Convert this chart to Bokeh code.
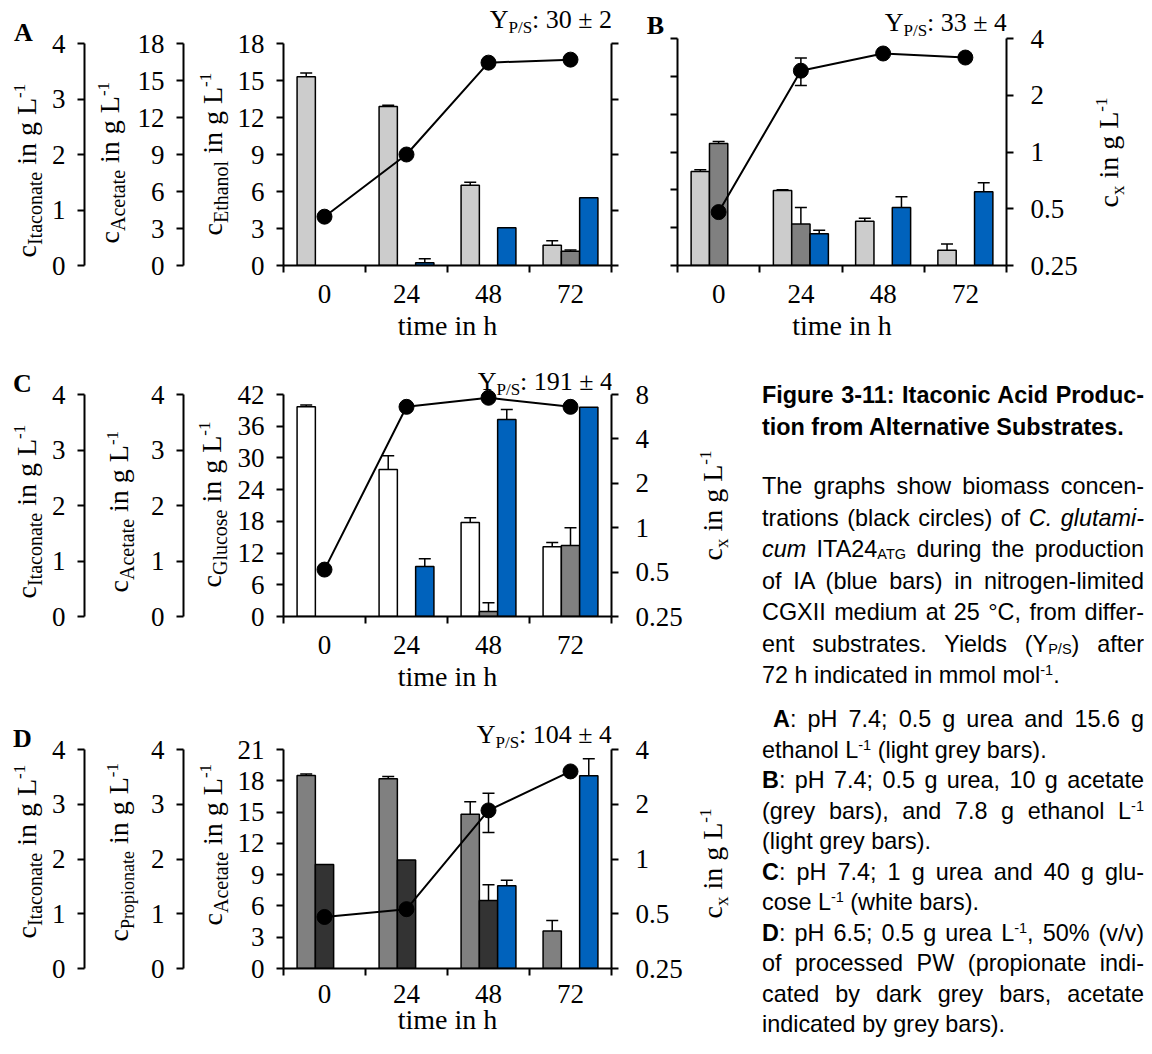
import math
from bokeh.plotting import figure
from bokeh.models import (Range1d, LinearAxis, LogScale, FixedTicker,
                          CustomJSTickFormatter, ColumnDataSource, Whisker,
                          TeeHead, Label, Div)
from bokeh.layouts import row, column
from bokeh.embed import file_html
from bokeh.resources import INLINE

SERIF = "Liberation Serif"

# ---------------- data ----------------
times = [0, 24, 48, 72]

# Panel A: ethanol
a_ethanol = [15.3, 12.9, 6.5, 1.65]
a_ethanol_err = [0.3, 0.1, 0.25, 0.35]
a_acetate = [0.0, 0.0, 0.0, 1.15]
a_acetate_err = [0.0, 0.0, 0.0, 0.1]
a_itaconate = [0.0, 0.05, 0.68, 1.22]
a_itaconate_err = [0.0, 0.07, 0.0, 0.0]
a_biomass = [0.46, 1.0, 3.15, 3.27]
a_biomass_err = [0.0, 0.0, 0.0, 0.0]
a_yield = "30 ± 2"

# Panel B: acetate + ethanol
b_ethanol = [7.46, 5.95, 3.5, 1.2]
b_ethanol_err = [0.13, 0.05, 0.25, 0.5]
b_acetate = [9.68, 3.3, 0.0, 0.0]
b_acetate_err = [0.16, 1.3, 0.0, 0.0]
b_itaconate = [0.0, 0.56, 1.02, 1.30]
b_itaconate_err = [0.0, 0.06, 0.19, 0.16]
b_biomass = [0.48, 2.7, 3.33, 3.17]
b_biomass_err = [0.05, 0.45, 0.15, 0.15]
b_yield = "33 ± 4"

# Panel C: glucose
c_glucose = [39.7, 27.8, 17.8, 13.2]
c_glucose_err = [0.3, 2.6, 0.9, 0.8]
c_acetate = [0.0, 0.0, 0.09, 1.28]
c_acetate_err = [0.0, 0.0, 0.16, 0.32]
c_itaconate = [0.0, 0.9, 3.55, 3.77]
c_itaconate_err = [0.0, 0.14, 0.18, 0.0]
c_biomass = [0.52, 6.6, 7.6, 6.6]
c_biomass_err = [0.0, 0.0, 0.0, 0.0]
c_yield = "191 ± 4"

# Panel D: processed PW
d_acetate = [18.5, 18.2, 14.8, 3.6]
d_acetate_err = [0.15, 0.2, 1.2, 1.0]
d_propionate = [1.9, 1.98, 1.24, 0.0]
d_propionate_err = [0.0, 0.0, 0.29, 0.0]
d_itaconate = [0.0, 0.0, 1.51, 3.52]
d_itaconate_err = [0.0, 0.0, 0.1, 0.31]
d_biomass = [0.48, 0.53, 1.85, 3.03]
d_biomass_err = [0.0, 0.0, 0.45, 0.0]
d_yield = "104 ± 4"

# tick labels
itaconate_ticks = [0, 1, 2, 3, 4]
conc18_ticks = [0, 3, 6, 9, 12, 15, 18]
glucose_ticks = [0, 6, 12, 18, 24, 30, 36, 42]
conc21_ticks = [0, 3, 6, 9, 12, 15, 18, 21]
cx_ticks = [0.25, 0.5, 1, 2, 4]
cx_ticks_c = [0.25, 0.5, 1, 2, 4, 8]

# ---------------- styles ----------------
LIGHT = "#cccccc"
GREY = "#808080"
DARK = "#333333"
BLUE = "#0062bc"
WHITE = "#ffffff"

TW = {' ': .25, '-': .333, '/': .278, ':': .278, '±': .564, '.': .25,
      '0': .5, '1': .5, '2': .5, '3': .5, '4': .5, '5': .5, '6': .5, '7': .5,
      '8': .5, '9': .5, 'A': .722, 'E': .611, 'G': .722, 'I': .333, 'L': .611,
      'P': .556, 'S': .556, 'Y': .722, 'a': .444, 'c': .444, 'e': .444,
      'g': .5, 'h': .5, 'i': .278, 'l': .278, 'n': .5, 'o': .5, 'p': .5,
      'r': .333, 's': .389, 't': .278, 'u': .5, 'x': .5}


def tw(s, size):
    return sum(TW.get(ch, 0.5) for ch in s) * size


XR = (-12, 84)
SLOT = 5.35
edges = [t - 12 for t in times] + [times[-1] + 12]


def make_conv(L, R, T, B, xr, yr):
    def conv(px, py):
        x = xr[0] + (px - L) / (R - L) * (xr[1] - xr[0])
        y = yr[0] + (B - py) / (B - T) * (yr[1] - yr[0])
        return x, y
    return conv


def ext_lin(r, y0, T, B):
    return (r[0], r[0] + (r[1] - r[0]) * (B - y0) / (B - T))


def ext_log(r, y0, T, B):
    n = math.log2(r[1] / r[0])
    return (r[0], r[0] * 2 ** (n * (B - y0) / (B - T)))


def base_fig(w, h, xr, yr, bl, br, bt, bb):
    p = figure(width=w, height=h, x_range=Range1d(*xr), y_range=Range1d(*yr),
               min_border_left=bl, min_border_right=br, min_border_top=bt,
               min_border_bottom=bb, x_axis_location=None, y_axis_location=None,
               toolbar_location=None, output_backend="svg", title=None,
               outline_line_color=None)
    p.grid.visible = False
    return p


def text_fig(x0, y0, w, h, B):
    # same top/bottom borders as the other plots of its row (frames get aligned)
    p = base_fig(w, h, (0, w), (0, B - y0), 0, 0, 0, y0 + h - B)
    conv = make_conv(x0, x0 + w, y0, B, (0, w), (0, B - y0))
    return p, conv


def style_y(ax, labels=True, standoff=12, fmt=None):
    ax.axis_line_width = 2
    ax.axis_line_color = "black"
    ax.major_tick_line_width = 2
    ax.major_tick_line_color = "black"
    ax.major_tick_out = 7
    ax.major_tick_in = 0
    ax.minor_tick_out = 0
    ax.minor_tick_in = 0
    ax.major_label_text_font = SERIF
    ax.major_label_text_font_size = "27px"
    ax.major_label_text_color = "black"
    ax.major_label_standoff = standoff
    if not labels:
        ax.formatter = CustomJSTickFormatter(code="return ''")
    elif fmt is not None:
        ax.formatter = fmt


def axis_fig(x0, y0, w, h, bl, T, B, yr, ticks):
    er = ext_lin(yr, y0, T, B)
    p = base_fig(w, h, (0, 1), er, bl, 0, 0, y0 + h - B)
    ax = LinearAxis(ticker=FixedTicker(ticks=ticks), bounds=yr)
    style_y(ax)
    p.add_layout(ax, "left")
    conv = make_conv(x0 + bl, x0 + w, y0, B, (0, 1), er)
    return p, conv


def main_fig(x0, y0, w, h, bl, br, T, B, yr, yticks, ylabels, extra,
             cxr, cxt, cxlabels, s1=12, s2=4):
    er = ext_lin(yr, y0, T, B)
    p = base_fig(w, h, XR, er, bl, br, 0, y0 + h - B)
    rngs = {name: Range1d(*ext_lin(r, y0, T, B)) for name, r in extra.items()}
    rngs["cx"] = Range1d(*ext_log(cxr, y0, T, B))
    p.extra_y_ranges = rngs
    p.extra_y_scales = {"cx": LogScale()}

    xax = LinearAxis(ticker=FixedTicker(ticks=times, minor_ticks=edges),
                     axis_label="time in h")
    xax.axis_line_width = 2
    xax.major_tick_out = 0
    xax.major_tick_in = 0
    xax.minor_tick_out = 7
    xax.minor_tick_in = 0
    xax.minor_tick_line_width = 2
    xax.minor_tick_line_color = "black"
    xax.major_label_text_font = SERIF
    xax.major_label_text_font_size = "27px"
    xax.major_label_text_color = "black"
    xax.major_label_standoff = s1
    xax.axis_label_text_font = SERIF
    xax.axis_label_text_font_size = "28px"
    xax.axis_label_text_font_style = "normal"
    xax.axis_label_text_color = "black"
    xax.axis_label_standoff = s2
    p.add_layout(xax, "below")

    yax = LinearAxis(ticker=FixedTicker(ticks=yticks), bounds=yr)
    style_y(yax, labels=ylabels, standoff=12 if ylabels else 0)
    p.add_layout(yax, "left")

    rax = LinearAxis(y_range_name="cx", ticker=FixedTicker(ticks=cxt), bounds=cxr)
    style_y(rax, labels=cxlabels, standoff=17 if cxlabels else 0,
            fmt=CustomJSTickFormatter(code="return String(tick)"))
    p.add_layout(rax, "right")

    conv = make_conv(x0 + bl, x0 + w - br, y0, B, XR, er)
    return p, conv


def bars(p, vals, errs, slot, color, rname="default"):
    keep = [i for i, v in enumerate(vals) if v > 0]
    xs = [times[i] + slot * SLOT for i in keep]
    src = ColumnDataSource(dict(x=xs, top=[vals[i] for i in keep]))
    p.vbar(x="x", top="top", bottom=0, width=SLOT, source=src,
           fill_color=color, line_color="black", line_width=1.5,
           y_range_name=rname)
    ek = [i for i in keep if errs[i] > 0]
    if ek:
        esrc = ColumnDataSource(dict(x=[times[i] + slot * SLOT for i in ek],
                                     lo=[vals[i] for i in ek],
                                     hi=[vals[i] + errs[i] for i in ek]))
        p.add_layout(Whisker(source=esrc, base="x", lower="lo", upper="hi",
                             y_range_name=rname, line_color="black",
                             line_width=1.5, lower_head=None,
                             upper_head=TeeHead(size=12, line_width=1.5,
                                                line_color="black")))


def biomass(p, vals, errs):
    p.line(times, vals, y_range_name="cx", line_color="black", line_width=2)
    p.scatter(times, vals, y_range_name="cx", size=15, fill_color="black",
              line_color="black")
    ek = [i for i, e in enumerate(errs) if e > 0]
    if ek:
        esrc = ColumnDataSource(dict(x=[times[i] for i in ek],
                                     lo=[vals[i] - errs[i] for i in ek],
                                     hi=[vals[i] + errs[i] for i in ek]))
        p.add_layout(Whisker(source=esrc, base="x", lower="lo", upper="hi",
                             y_range_name="cx", line_color="black",
                             line_width=1.5,
                             upper_head=TeeHead(size=12, line_width=1.5, line_color="black"),
                             lower_head=TeeHead(size=12, line_width=1.5, line_color="black")))


def put(p, conv, px, py, text, size, angle=0.0, align="left", bold=False,
        baseline="middle"):
    x, y = conv(px, py)
    p.add_layout(Label(x=x, y=y, text=text, angle=angle, text_align=align,
                       text_baseline=baseline, text_font=SERIF,
                       text_font_size=f"{size}px", text_color="black",
                       text_font_style="bold" if bold else "normal"))


MID = 0.3375  # distance baseline -> middle of em box, in em


def vtitle(p, conv, xb, ybot, sub, main=28, subs=20, sups=17):
    # rotated (reading upwards) title: c_sub in g L^-1, each piece centred
    pieces = [("c", main, 0, 0.0), (sub, subs, 6, 0.0),
              ("in g L", main, 0, tw(" ", main)), ("-1", sups, -10, 0.0)]
    y = ybot
    for text, size, dx, gap in pieces:
        y -= gap
        w = tw(text, size)
        put(p, conv, xb + dx - MID * size, y - w / 2, text, size,
            angle=math.pi / 2, align="center")
        y -= w


def yield_label(p, conv, xr, yb, val):
    # horizontal "Y_P/S: value", right end at xr, main baseline at yb
    pieces = [("Y", 26, 0), ("P/S", 17, 5), (": " + val, 26, 0)]
    total = sum(tw(t, s) for t, s, _ in pieces)
    x = xr - total
    for t, s, dy in pieces:
        put(p, conv, x, yb + dy - MID * s, t, s)
        x += tw(t, s)


# ---------------- row 1: panels A and B ----------------
Y1, H1, B1 = 0, 345, 265
tA, cvTA = text_fig(0, Y1, 48, H1, B1)
itaA, cvIA = axis_fig(48, Y1, 84, H1, 35, 43, B1, (0, 4), itaconate_ticks)
aceA, cvAA = axis_fig(132, Y1, 101, H1, 51, 43, B1, (0, 18), conc18_ticks)
mainA, cvMA = main_fig(233, Y1, 407, H1, 50, 29, 43, B1, (0, 18), conc18_ticks,
                       True, {"ita": (0, 4)}, (0.25, 4), cx_ticks, False)
bars(mainA, a_ethanol, a_ethanol_err, -1, LIGHT)
bars(mainA, a_acetate, a_acetate_err, 0, GREY)
bars(mainA, a_itaconate, a_itaconate_err, 1, BLUE, "ita")
biomass(mainA, a_biomass, a_biomass_err)
vtitle(tA, cvTA, 35, 257, "Itaconate")
vtitle(itaA, cvIA, 118, 243, "Acetate")
vtitle(aceA, cvAA, 221, 235, "Ethanol")
put(tA, cvTA, 23, 32, "A", 26, align="center", bold=True)
yield_label(mainA, cvMA, 612, 28, a_yield)

tB, cvTB = text_fig(640, Y1, 26, H1, B1)
figB, cvB = main_fig(666, Y1, 424, H1, 11, 84, 38, B1, (0, 18), conc18_ticks,
                     False, {"ita": (0, 4)}, (0.25, 4), cx_ticks, True)
tB2, cvTB2 = text_fig(1090, Y1, 54, H1, B1)
bars(figB, b_ethanol, b_ethanol_err, -1, LIGHT)
bars(figB, b_acetate, b_acetate_err, 0, GREY)
bars(figB, b_itaconate, b_itaconate_err, 1, BLUE, "ita")
biomass(figB, b_biomass, b_biomass_err)
put(tB, cvTB, 655, 25, "B", 26, align="center", bold=True)
yield_label(figB, cvB, 1007, 31, b_yield)
vtitle(tB2, cvTB2, 1117, 207, "x", subs=19)

# ---------------- row 2: panel C ----------------
Y2, H2, B2 = 345, 350, 616
tC, cvTC = text_fig(0, Y2, 48, H2, B2)
itaC, cvIC = axis_fig(48, Y2, 92, H2, 35, 394, B2, (0, 4), itaconate_ticks)
aceC, cvAC = axis_fig(140, Y2, 93, H2, 43, 394, B2, (0, 4), itaconate_ticks)
mainC, cvMC = main_fig(233, Y2, 457, H2, 50, 79, 394, B2, (0, 42), glucose_ticks,
                       True, {"ita": (0, 4), "ace": (0, 4)}, (0.25, 8), cx_ticks_c, True)
tC2, cvTC2 = text_fig(690, Y2, 55, H2, B2)
bars(mainC, c_glucose, c_glucose_err, -1, WHITE)
bars(mainC, c_acetate, c_acetate_err, 0, GREY, "ace")
bars(mainC, c_itaconate, c_itaconate_err, 1, BLUE, "ita")
biomass(mainC, c_biomass, c_biomass_err)
vtitle(tC, cvTC, 35, 598, "Itaconate")
vtitle(itaC, cvIC, 127, 592, "Acetate")
vtitle(aceC, cvAC, 220, 587, "Glucose")
vtitle(tC2, cvTC2, 721, 560, "x", subs=19)
put(tC, cvTC, 22, 383, "C", 26, align="center", bold=True)
yield_label(mainC, cvMC, 613, 390, c_yield)

# ---------------- row 3: panel D ----------------
Y3, H3, B3 = 695, 343, 968
tD, cvTD = text_fig(0, Y3, 48, H3, B3)
itaD, cvID = axis_fig(48, Y3, 92, H3, 35, 749, B3, (0, 4), itaconate_ticks)
prD, cvPD = axis_fig(140, Y3, 93, H3, 43, 749, B3, (0, 4), itaconate_ticks)
mainD, cvMD = main_fig(233, Y3, 457, H3, 50, 79, 749, B3, (0, 21), conc21_ticks,
                       True, {"ita": (0, 4), "prop": (0, 4)}, (0.25, 4), cx_ticks, True,
                       s1=9, s2=-2)
tD2, cvTD2 = text_fig(690, Y3, 55, H3, B3)
bars(mainD, d_acetate, d_acetate_err, -1, GREY)
bars(mainD, d_propionate, d_propionate_err, 0, DARK, "prop")
bars(mainD, d_itaconate, d_itaconate_err, 1, BLUE, "ita")
biomass(mainD, d_biomass, d_biomass_err)
vtitle(tD, cvTD, 35, 938, "Itaconate")
vtitle(itaD, cvID, 127, 941, "Propionate", subs=18)
vtitle(prD, cvPD, 221, 925, "Acetate")
vtitle(tD2, cvTD2, 721, 918, "x", subs=19)
put(tD, cvTD, 22, 738, "D", 26, align="center", bold=True)
yield_label(mainD, cvMD, 612, 743, d_yield)

# ---------------- caption ----------------
SUB = '<sub style="font-size:0.62em;vertical-align:-0.12em;line-height:0">'
SUP = '<sup style="font-size:0.62em;vertical-align:0.55em;line-height:0">'
paragraphs = [
    (395, 31.6, [
        ("<b>Figure 3-11: Itaconic Acid Produc-</b>", True),
        ("<b>tion from Alternative Substrates.</b>", False)]),
    (486, 31.5, [
        ("The graphs show biomass concen-", True),
        ("trations (black circles) of <i>C. glutami-</i>", True),
        ("<i>cum</i> ITA24" + SUB + "ATG</sub> during the production", True),
        ("of IA (blue bars) in nitrogen-limited", True),
        ("CGXII medium at 25 °C, from differ-", True),
        ("ent substrates. Yields (Y" + SUB + "P/S</sub>) after", True),
        ("72 h indicated in mmol mol" + SUP + "-1</sup>.", False)]),
    (719, 30.5, [
        ("&nbsp;<b>A</b>: pH 7.4; 0.5 g urea and 15.6 g", True),
        ("ethanol L" + SUP + "-1</sup> (light grey bars).", False),
        ("<b>B</b>: pH 7.4; 0.5 g urea, 10 g acetate", True),
        ("(grey bars), and 7.8 g ethanol L" + SUP + "-1</sup>", True),
        ("(light grey bars).", False),
        ("<b>C</b>: pH 7.4; 1 g urea and 40 g glu-", True),
        ("cose L" + SUP + "-1</sup> (white bars).", False),
        ("<b>D</b>: pH 6.5; 0.5 g urea L" + SUP + "-1</sup>, 50% (v/v)", True),
        ("of processed PW (propionate indi-", True),
        ("cated by dark grey bars, acetate", True),
        ("indicated by grey bars).", False)]),
]
LH = 26.0
CAP_X, CAP_Y, CAP_W, CAP_H = 745, Y2, 399, H2 + H3
parts = []
for start, step, lines in paragraphs:
    for k, (html, just) in enumerate(lines):
        top = start + k * step - LH / 2 - CAP_Y
        al = "text-align:justify;text-align-last:justify;" if just else "text-align:left;"
        parts.append(
            f'<div style="position:absolute;left:17px;width:382px;top:{top:.1f}px;'
            f'height:{LH}px;line-height:{LH}px;{al}">{html}</div>')
cap_html = (f'<div style="position:relative;width:{CAP_W}px;height:{CAP_H}px;overflow:hidden;'
            "font-family:'Liberation Sans',Arial,sans-serif;font-size:23.4px;color:#000;\">"
            + "".join(parts) + "</div>")
cap = Div(text=cap_html, width=CAP_W, height=CAP_H, styles={"margin": "0", "padding": "0"})

layout = column(
    row(tA, itaA, aceA, mainA, tB, figB, tB2),
    row(column(row(tC, itaC, aceC, mainC, tC2), row(tD, itaD, prD, mainD, tD2)), cap),
)

open("out.html", "w").write(file_html(layout, INLINE))
